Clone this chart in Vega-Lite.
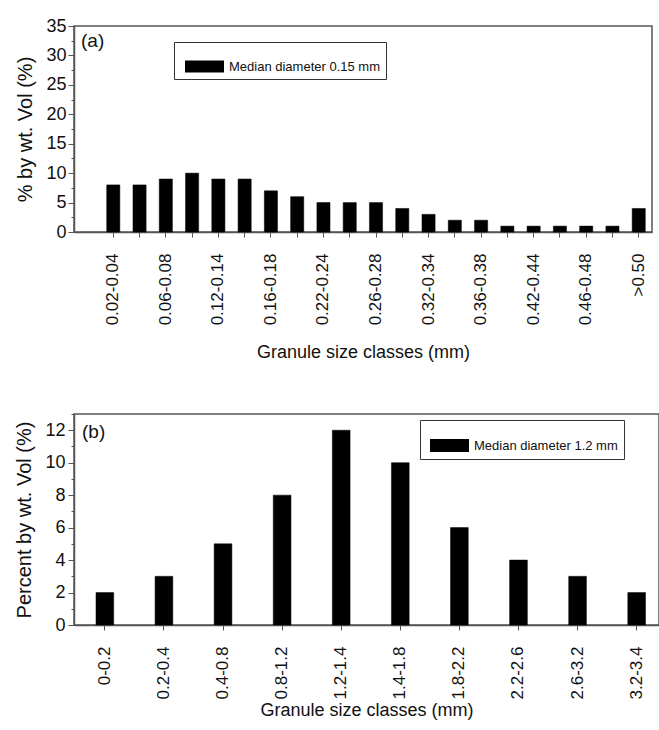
{
  "$schema": "https://vega.github.io/schema/vega-lite/v6.json",
  "background": "white",
  "padding": {"top": 16, "left": 14, "right": 0, "bottom": 0},
  "spacing": 49,
  "config": {
    "font": "Liberation Sans",
    "view": {"stroke": "#555", "strokeWidth": 1.5},
    "axis": {
      "grid": false,
      "domainColor": "#555",
      "domainWidth": 1.5,
      "tickColor": "#555",
      "tickWidth": 1,
      "labelColor": "#111",
      "titleColor": "#111",
      "labelFont": "Liberation Sans",
      "titleFont": "Liberation Sans",
      "titleFontWeight": "normal"
    },
    "legend": {"labelFont": "Liberation Sans", "labelColor": "#111"},
    "title": {"font": "Liberation Sans", "fontWeight": "normal", "color": "#111"}
  },
  "resolve": {"scale": {"color": "independent"}, "legend": {"color": "independent"}},
  "vconcat": [
    {
      "width": 578,
      "height": 206,
      "title": {"text": "(a)", "anchor": "start", "frame": "group", "dx": 7, "dy": 34, "fontSize": 19, "offset": 0},
      "data": {
        "values": [
          {"size": "0.02-0.04", "pct": 8, "series": "Median diameter 0.15 mm"},
          {"size": "0.04-0.06", "pct": 8, "series": "Median diameter 0.15 mm"},
          {"size": "0.06-0.08", "pct": 9, "series": "Median diameter 0.15 mm"},
          {"size": "0.08-0.12", "pct": 10, "series": "Median diameter 0.15 mm"},
          {"size": "0.12-0.14", "pct": 9, "series": "Median diameter 0.15 mm"},
          {"size": "0.14-0.16", "pct": 9, "series": "Median diameter 0.15 mm"},
          {"size": "0.16-0.18", "pct": 7, "series": "Median diameter 0.15 mm"},
          {"size": "0.18-0.22", "pct": 6, "series": "Median diameter 0.15 mm"},
          {"size": "0.22-0.24", "pct": 5, "series": "Median diameter 0.15 mm"},
          {"size": "0.24-0.26", "pct": 5, "series": "Median diameter 0.15 mm"},
          {"size": "0.26-0.28", "pct": 5, "series": "Median diameter 0.15 mm"},
          {"size": "0.28-0.32", "pct": 4, "series": "Median diameter 0.15 mm"},
          {"size": "0.32-0.34", "pct": 3, "series": "Median diameter 0.15 mm"},
          {"size": "0.34-0.36", "pct": 2, "series": "Median diameter 0.15 mm"},
          {"size": "0.36-0.38", "pct": 2, "series": "Median diameter 0.15 mm"},
          {"size": "0.38-0.42", "pct": 1, "series": "Median diameter 0.15 mm"},
          {"size": "0.42-0.44", "pct": 1, "series": "Median diameter 0.15 mm"},
          {"size": "0.44-0.46", "pct": 1, "series": "Median diameter 0.15 mm"},
          {"size": "0.46-0.48", "pct": 1, "series": "Median diameter 0.15 mm"},
          {"size": "0.48-0.50", "pct": 1, "series": "Median diameter 0.15 mm"},
          {"size": ">0.50", "pct": 4, "series": "Median diameter 0.15 mm"}
        ]
      },
      "mark": {"type": "bar", "stroke": "#000", "strokeWidth": 0.5},
      "encoding": {
        "x": {
          "field": "size",
          "type": "nominal",
          "sort": null,
          "scale": {"paddingInner": 0.5, "paddingOuter": 0.75, "align": 0.83},
          "axis": {
            "title": "Granule size classes (mm)",
            "titleFontSize": 18,
            "titlePadding": 19,
            "labelAngle": -90,
            "labelFontSize": 17,
            "labelPadding": 16,
            "tickSize": 5,
            "labelExpr": "indexof(['0.02-0.04','0.06-0.08','0.12-0.14','0.16-0.18','0.22-0.24','0.26-0.28','0.32-0.34','0.36-0.38','0.42-0.44','0.46-0.48','>0.50'], datum.value) >= 0 ? datum.value : ''"
          }
        },
        "y": {
          "field": "pct",
          "type": "quantitative",
          "scale": {"domain": [0, 35], "nice": false},
          "axis": {
            "title": "% by wt. Vol (%)",
            "titleFontSize": 20,
            "titlePadding": 10,
            "labelFontSize": 18,
            "labelPadding": 2,
            "values": [0, 2.5, 5, 7.5, 10, 12.5, 15, 17.5, 20, 22.5, 25, 27.5, 30, 32.5, 35],
            "labelExpr": "datum.value % 5 === 0 ? datum.label : ''",
            "tickSize": {"condition": {"test": "datum.value % 5 === 0", "value": 6}, "value": 3}
          }
        },
        "color": {
          "field": "series",
          "type": "nominal",
          "scale": {"range": ["#000000"]},
          "legend": {
            "title": null,
            "orient": "none",
            "legendX": 100,
            "legendY": 16,
            "symbolType": "M-1,-0.31H1V0.31H-1Z",
            "symbolSize": 1521,
            "symbolStrokeWidth": 0,
            "symbolOffset": 6,
            "labelOffset": 5,
            "labelFontSize": 13,
            "padding": 5,
            "strokeColor": "#333",
            "fillColor": "white"
          }
        }
      }
    },
    {
      "width": 585,
      "height": 211,
      "title": {"text": "(b)", "anchor": "start", "frame": "group", "dx": 8, "dy": 28, "fontSize": 19, "offset": 0},
      "data": {
        "values": [
          {"size": "0-0.2", "pct": 2, "series": "Median diameter 1.2 mm"},
          {"size": "0.2-0.4", "pct": 3, "series": "Median diameter 1.2 mm"},
          {"size": "0.4-0.8", "pct": 5, "series": "Median diameter 1.2 mm"},
          {"size": "0.8-1.2", "pct": 8, "series": "Median diameter 1.2 mm"},
          {"size": "1.2-1.4", "pct": 12, "series": "Median diameter 1.2 mm"},
          {"size": "1.4-1.8", "pct": 10, "series": "Median diameter 1.2 mm"},
          {"size": "1.8-2.2", "pct": 6, "series": "Median diameter 1.2 mm"},
          {"size": "2.2-2.6", "pct": 4, "series": "Median diameter 1.2 mm"},
          {"size": "2.6-3.2", "pct": 3, "series": "Median diameter 1.2 mm"},
          {"size": "3.2-3.4", "pct": 2, "series": "Median diameter 1.2 mm"}
        ]
      },
      "mark": {"type": "bar", "stroke": "#000", "strokeWidth": 0.5},
      "encoding": {
        "x": {
          "field": "size",
          "type": "nominal",
          "sort": null,
          "scale": {"paddingInner": 0.7, "paddingOuter": 0.3, "align": 0.62},
          "axis": {
            "title": "Granule size classes (mm)",
            "titleFontSize": 18,
            "titlePadding": 3,
            "labelAngle": -90,
            "labelFontSize": 17,
            "labelPadding": 16,
            "tickSize": 5
          }
        },
        "y": {
          "field": "pct",
          "type": "quantitative",
          "scale": {"domain": [0, 13], "nice": false},
          "axis": {
            "title": "Percent by wt. Vol (%)",
            "titleFontSize": 20,
            "titlePadding": 10,
            "labelFontSize": 18,
            "labelPadding": 3,
            "values": [0, 1, 2, 3, 4, 5, 6, 7, 8, 9, 10, 11, 12, 13],
            "labelExpr": "datum.value % 2 === 0 ? datum.label : ''",
            "tickSize": {"condition": {"test": "datum.value % 2 === 0", "value": 6}, "value": 3}
          }
        },
        "color": {
          "field": "series",
          "type": "nominal",
          "scale": {"range": ["#000000"]},
          "legend": {
            "title": null,
            "orient": "none",
            "legendX": 346,
            "legendY": 6,
            "symbolType": "M-1,-0.33H1V0.33H-1Z",
            "symbolSize": 1521,
            "symbolStrokeWidth": 0,
            "symbolOffset": 4,
            "labelOffset": 5,
            "labelFontSize": 13,
            "padding": 6,
            "strokeColor": "#333",
            "fillColor": "white"
          }
        }
      }
    }
  ]
}
